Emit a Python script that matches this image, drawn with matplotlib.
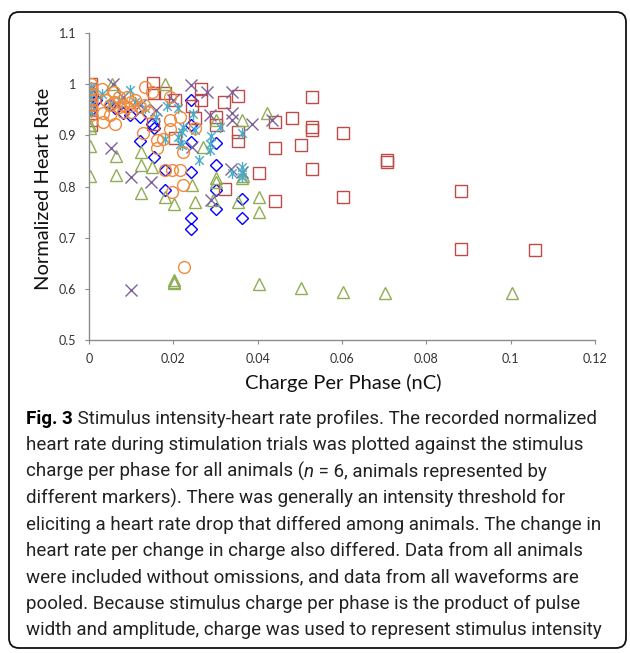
import matplotlib
matplotlib.use("Agg")
import matplotlib.pyplot as plt
from matplotlib.patches import FancyBboxPatch
from matplotlib.path import Path

# ---- data (charge per phase in nC, normalized heart rate) ----
blue_x = [0.0005, 0.0005, 0.0005, 0.0017, 0.005, 0.0062, 0.0081, 0.0097, 0.0121, 0.0149,
          0.0153, 0.0121, 0.0153, 0.018, 0.018, 0.0242, 0.0242, 0.0242, 0.0242, 0.0242,
          0.0242, 0.0301, 0.0301, 0.0301, 0.0301, 0.0362, 0.0362]
blue_y = [0.98, 0.96, 0.95, 0.97, 0.96, 0.953, 0.944, 0.94, 0.936, 0.923,
          0.914, 0.888, 0.857, 0.832, 0.794, 0.97, 0.92, 0.886, 0.829, 0.739,
          0.716, 0.885, 0.842, 0.794, 0.757, 0.776, 0.738]

red_x = [0.0005, 0.0005, 0.0005, 0.0005, 0.0005, 0.0005, 0.0005, 0.0005,
         0.0152, 0.0154, 0.018, 0.0205, 0.0265, 0.0265, 0.0244, 0.032, 0.0354, 0.0152,
         0.0251, 0.0301, 0.0301, 0.0354, 0.0354, 0.0205, 0.0323, 0.0402,
         0.0442, 0.0442, 0.0442, 0.0482, 0.0502, 0.053, 0.053, 0.053, 0.053,
         0.0602, 0.0602, 0.0706, 0.0706, 0.0882, 0.0882, 0.1058]
red_y = [1.0, 0.99, 0.98, 0.97, 0.96, 0.95, 0.93, 0.92,
         1.003, 0.982, 0.983, 0.969, 0.99, 0.969, 0.957, 0.966, 0.977, 0.923,
         0.933, 0.936, 0.92, 0.907, 0.888, 0.894, 0.796, 0.826,
         0.927, 0.876, 0.772, 0.933, 0.882, 0.974, 0.916, 0.91, 0.834,
         0.905, 0.779, 0.848, 0.852, 0.792, 0.678, 0.676]

green_x = [0.0002, 0.0002, 0.0002, 0.0002, 0.0055, 0.0063, 0.0063, 0.0123, 0.0123, 0.015,
           0.0123, 0.018, 0.018, 0.0202, 0.0202, 0.0202, 0.0202, 0.0244, 0.0252, 0.0271,
           0.0295, 0.0301, 0.0301, 0.0301, 0.0353, 0.0362, 0.0362, 0.0366, 0.0402, 0.0402,
           0.0421, 0.0402, 0.0502, 0.0602, 0.0702, 0.1003]
green_y = [0.92, 0.915, 0.88, 0.82, 1.0, 0.86, 0.822, 0.868, 0.842, 0.839,
           0.787, 1.0, 0.78, 0.766, 0.617, 0.611, 0.613, 0.803, 0.77, 0.878,
           0.774, 0.816, 0.809, 0.93, 0.77, 0.816, 0.93, 0.82, 0.78, 0.75,
           0.944, 0.609, 0.602, 0.593, 0.591, 0.591]

purple_x = [0.0005, 0.0058, 0.008, 0.012, 0.0052, 0.0099, 0.0146, 0.0099, 0.0243, 0.0279,
            0.0338, 0.0287, 0.0338, 0.0338, 0.0244, 0.0337, 0.0362, 0.029, 0.0386, 0.0433,
            0.016, 0.02]
purple_y = [0.99, 1.0, 0.975, 0.96, 0.875, 0.819, 0.809, 0.598, 0.998, 0.985,
            0.985, 0.939, 0.943, 0.93, 0.878, 0.834, 0.829, 0.774, 0.922, 0.93,
            0.95, 0.97]

cyan_x = [0.0005, 0.0005, 0.0005, 0.0005, 0.0005, 0.003, 0.005, 0.007, 0.0097, 0.011,
          0.0133, 0.016, 0.0184, 0.0212, 0.0247, 0.0224, 0.022, 0.0212, 0.018, 0.022,
          0.0251, 0.0216, 0.0287, 0.0287, 0.0262, 0.031, 0.029, 0.0362, 0.0362, 0.0362,
          0.0338, 0.0362]
cyan_y = [0.995, 0.985, 0.975, 0.96, 0.945, 0.98, 0.96, 0.97, 0.989, 0.965,
          0.953, 0.936, 0.957, 0.953, 0.942, 0.916, 0.907, 0.897, 0.893, 0.881,
          0.91, 0.884, 0.884, 0.871, 0.852, 0.916, 0.899, 0.904, 0.839, 0.826,
          0.826, 0.819]

orange_x = [0.0005, 0.0005, 0.0005, 0.0005, 0.0005, 0.0005, 0.0005, 0.003, 0.004, 0.005,
            0.005, 0.006, 0.006, 0.007, 0.007, 0.008, 0.008, 0.009, 0.009, 0.01,
            0.01, 0.011, 0.012, 0.013, 0.0133, 0.015, 0.014, 0.0034, 0.0034, 0.0062,
            0.0129, 0.0161, 0.0161, 0.0216, 0.0224, 0.018, 0.0196, 0.0216, 0.0224, 0.0196,
            0.0251, 0.0192, 0.0192, 0.0192, 0.0176, 0.0226]
orange_y = [1.0, 0.99, 0.98, 0.97, 0.96, 0.95, 0.94, 0.99, 0.97, 0.96,
            0.94, 0.985, 0.965, 0.955, 0.975, 0.96, 0.945, 0.975, 0.955, 0.965,
            0.945, 0.97, 0.955, 0.96, 0.995, 0.985, 0.945, 0.943, 0.927, 0.923,
            0.904, 0.891, 0.875, 0.936, 0.868, 0.832, 0.832, 0.832, 0.803, 0.79,
            0.914, 0.974, 0.929, 0.912, 0.893, 0.642]

x_ticks = [0, 0.02, 0.04, 0.06, 0.08, 0.1, 0.12]
x_labels = ["0", "0.02", "0.04", "0.06", "0.08", "0.1", "0.12"]
y_ticks = [0.5, 0.6, 0.7, 0.8, 0.9, 1.0, 1.1]
y_labels = ["0.5", "0.6", "0.7", "0.8", "0.9", "1", "1.1"]

caption = [
    [("Fig. 3", "bold", "normal"), (" Stimulus intensity-heart rate profiles. The recorded normalized", "normal", "normal")],
    [("heart rate during stimulation trials was plotted against the stimulus", "normal", "normal")],
    [("charge per phase for all animals (", "normal", "normal"), ("n", "normal", "italic"),
     (" = 6, animals represented by", "normal", "normal")],
    [("different markers). There was generally an intensity threshold for", "normal", "normal")],
    [("eliciting a heart rate drop that differed among animals. The change in", "normal", "normal")],
    [("heart rate per change in charge also differed. Data from all animals", "normal", "normal")],
    [("were included without omissions, and data from all waveforms are", "normal", "normal")],
    [("pooled. Because stimulus charge per phase is the product of pulse", "normal", "normal")],
    [("width and amplitude, charge was used to represent stimulus intensity", "normal", "normal")],
]

# excel style asterisk: an x with a vertical bar through it
star = Path([(-1, -1), (1, 1), (-1, 1), (1, -1), (0, -1.3), (0, 1.3)],
            [Path.MOVETO, Path.LINETO, Path.MOVETO, Path.LINETO, Path.MOVETO, Path.LINETO])

W, H = 630, 653
fig = plt.figure(figsize=(W / 100, H / 100), dpi=100)
ax = fig.add_axes([89 / W, 1 - 340 / H, (595 - 89) / W, (340 - 33) / H])

def pts(x, y, marker, color, size, lw=1.0):
    ax.plot(x, y, linestyle="none", marker=marker, markersize=size,
            markerfacecolor="none", markeredgecolor=color, markeredgewidth=lw)

pts(blue_x, blue_y, "D", "#0000FF", 6.5)
pts(red_x, red_y, "s", "#BE4B48", 8.0)
pts(green_x, green_y, "^", "#8FAE53", 8.5)
pts(purple_x, purple_y, "x", "#7D60A0", 8.0)
pts(cyan_x, cyan_y, star, "#4BACC6", 8.0)
pts(orange_x, orange_y, "o", "#F08A3C", 8.5)

ax.set_xlim(0, 0.12)
ax.set_ylim(0.5, 1.1)
ax.set_xticks(x_ticks)
ax.set_xticklabels(x_labels)
ax.set_yticks(y_ticks)
ax.set_yticklabels(y_labels)
for s in ["top", "right"]:
    ax.spines[s].set_visible(False)
for s in ["left", "bottom"]:
    ax.spines[s].set_color("#8C8C8C")
    ax.spines[s].set_linewidth(1.0)
ax.tick_params(direction="out", length=3, width=0.8, color="#8C8C8C",
               labelsize=9, labelcolor="#333333", pad=6)
for lab in ax.get_xticklabels() + ax.get_yticklabels():
    lab.set_family("Lato")

fig.text(343 / W, 1 - 383 / H, "Charge Per Phase (nC)", ha="center", va="center",
         fontsize=14.5, family="Lato", color="#111111")
fig.text(44 / W, 1 - 189 / H, "Normalized Heart Rate", ha="center", va="center",
         rotation=90, fontsize=14.5, family="Lato", color="#111111")

# caption, drawn line by line so the bold and italic bits sit inline
fig.canvas.draw()
renderer = fig.canvas.get_renderer()
line_y = 419
for line in caption:
    x = 26
    for txt, weight, style in line:
        t = fig.text(x / W, 1 - line_y / H, txt, ha="left", va="center",
                     fontsize=13.5, family="Roboto", weight=weight, style=style,
                     color="#000000" if weight == "bold" else "#222222")
        x += t.get_window_extent(renderer).width
    line_y += 26.4

# rounded border round the whole figure panel
frame = FancyBboxPatch((9 / 100, 5 / 100), 617 / 100, 636 / 100,
                       boxstyle="round,pad=0,rounding_size=0.1",
                       transform=fig.dpi_scale_trans, facecolor="none",
                       edgecolor="#111111", linewidth=1.3)
fig.patches.append(frame)

fig.savefig("out.png", dpi=100)
